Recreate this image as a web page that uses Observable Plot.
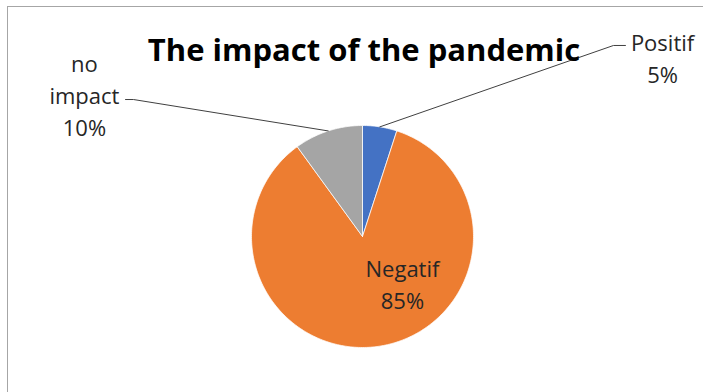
<!DOCTYPE html>
<html>
<head>
<meta charset="utf-8">
<script src="https://cdn.jsdelivr.net/npm/d3@7"></script>
<script src="https://cdn.jsdelivr.net/npm/@observablehq/plot@0.6"></script>
<style>
  html, body { margin: 0; padding: 0; background: #fff; }
  #wrap { position: relative; width: 703px; height: 392px; overflow: hidden; }
  #frame { position: absolute; left: 7px; top: 6px; width: 800px; height: 500px;
           border-left: 1.5px solid #a6a6a6; border-top: 1.5px solid #a6a6a6; pointer-events: none; }
  svg { position: absolute; left: 0; top: 0; }
</style>
</head>
<body>
<div id="wrap"><div id="frame"></div></div>
<script>
// ---- data ----
const title = "The impact of the pandemic";
const categories = ["Positif", "Negatif", "no impact"];
const shares = [5, 85, 10];
const labelTexts = ["Positif\n5%", "Negatif\n85%", "no\nimpact\n10%"];

// ---- styles / layout (unit-circle coordinates) ----
const colors = ["#4472C4", "#ED7D31", "#A5A5A5"];
const labelPos = [[2.703, 1.617], [0.360, -0.414], [-2.505, 1.288]];
const leaderElbow = [[[2.261, 1.721], [2.369, 1.721]], null, [[-2.063, 1.234], [-2.135, 1.234]]];

const total = d3.sum(shares);
let acc = 0;
const slices = categories.map((c, i) => {
  const a0 = acc / total * 2 * Math.PI;
  acc += shares[i];
  const a1 = acc / total * 2 * Math.PI;
  return {category: c, value: shares[i], a0, a1, mid: (a0 + a1) / 2, color: colors[i]};
});

const polyPts = [];
for (const s of slices) {
  polyPts.push({category: s.category, x: 0, y: 0});
  const n = Math.max(2, Math.ceil((s.a1 - s.a0) / (Math.PI / 180)));
  for (let k = 0; k <= n; k++) {
    const a = s.a0 + (s.a1 - s.a0) * k / n;
    polyPts.push({category: s.category, x: Math.sin(a), y: Math.cos(a)});
  }
  polyPts.push({category: s.category, x: 0, y: 0});
}

const leaderPts = [];
slices.forEach((s, i) => {
  if (!leaderElbow[i]) return;
  leaderPts.push({category: s.category, x: Math.sin(s.mid), y: Math.cos(s.mid)});
  for (const p of leaderElbow[i]) leaderPts.push({category: s.category, x: p[0], y: p[1]});
});

const labels = slices.map((s, i) => ({category: s.category, text: labelTexts[i], x: labelPos[i][0], y: labelPos[i][1]}));

const font = "'Open Sans', sans-serif";

const chart = Plot.plot({
  width: 703,
  height: 392,
  margin: 0,
  x: {domain: [-362 / 111, (703 - 362) / 111], axis: null},
  y: {domain: [(236 - 392) / 111, 236 / 111], axis: null},
  color: {domain: categories, range: colors},
  style: {background: "transparent", fontFamily: font},
  marks: [
    Plot.line(polyPts, {x: "x", y: "y", z: "category", fill: "category", stroke: "white", strokeWidth: 0.75, curve: "linear"}),
    Plot.line(leaderPts, {x: "x", y: "y", z: "category", stroke: "#404040", strokeWidth: 1}),
    Plot.text(labels, {x: "x", y: "y", text: "text", fontSize: 22, lineHeight: 1.45, fill: "#262626", fontFamily: font}),
    Plot.text([title], {frameAnchor: "top", dx: 12, dy: 38, text: d => d, fontSize: 31, fontWeight: "bold", fill: "#000", fontFamily: font})
  ]
});
document.getElementById("wrap").appendChild(chart);
</script>
</body>
</html>
